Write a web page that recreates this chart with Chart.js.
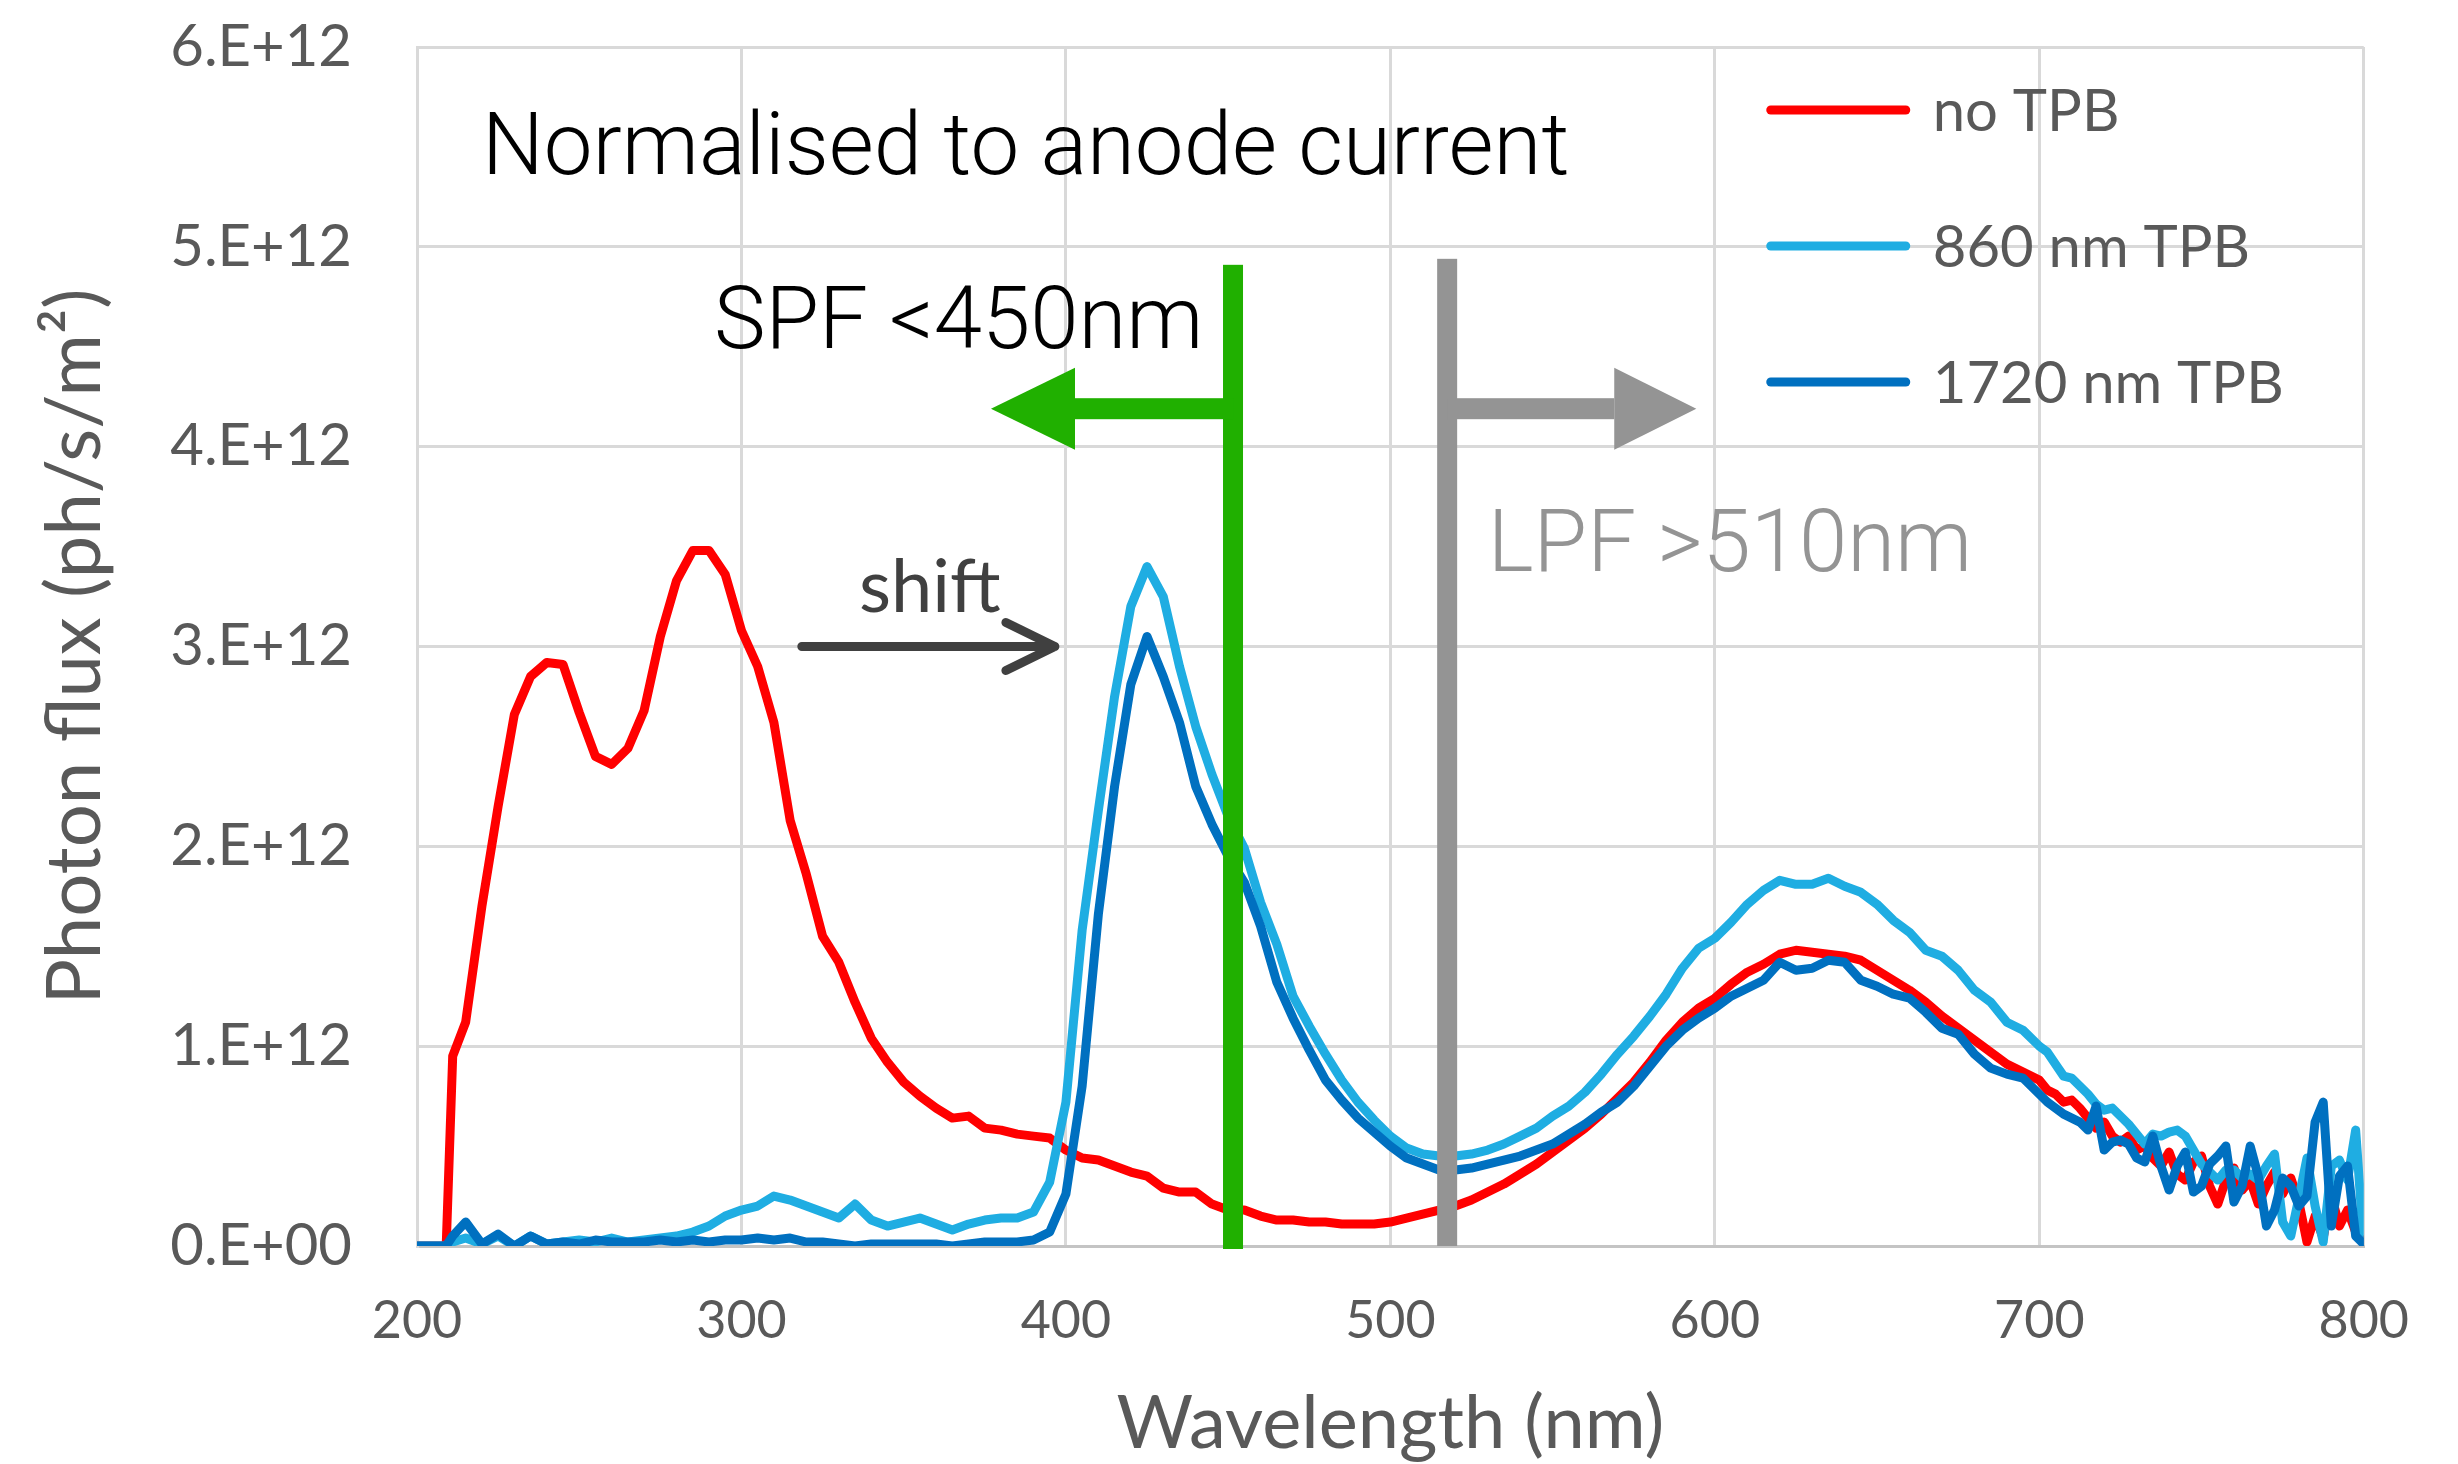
<!DOCTYPE html>
<html>
<head>
<meta charset="utf-8">
<script src="https://cdn.jsdelivr.net/npm/chart.js@4/dist/chart.umd.min.js"></script>
<style>
  html, body { margin: 0; padding: 0; background: #ffffff; }
  #wrap { width: 2458px; height: 1464px; }
</style>
</head>
<body>
<div id="wrap"><canvas id="c" width="2458" height="1464"></canvas></div>
<script>
// Wavelength samples (nm)
const wavelengths = [
  200, 205, 209, 211,
  215, 220, 225, 230, 235, 240, 245, 250, 255, 260, 265, 270, 275, 280, 285, 290,
  295, 300, 305, 310, 315, 320, 325, 330, 335, 340, 345, 350, 355, 360, 365, 370,
  375, 380, 385, 390, 395, 400, 405, 410, 415, 420, 425, 430, 435, 440, 445, 450,
  455, 460, 465, 470, 475, 480, 485, 490, 495, 500, 505, 510, 515, 520, 525, 530,
  535, 540, 545, 550, 555, 560, 565, 570, 575, 580, 585, 590, 595, 600, 605, 610,
  615, 620, 625, 630, 635, 640, 645, 650, 655, 660, 665, 670, 675, 680, 685, 690,
  695, 700,
  702.5, 705, 707.5, 710, 712.5, 715, 717.5, 720, 722.5, 725, 727.5, 730, 732.5, 735,
  737.5, 740, 742.5, 745, 747.5, 750, 752.5, 755, 757.5, 760, 762.5, 765, 767.5, 770,
  772.5, 775, 777.5, 780, 782.5, 785, 787.5, 790, 792.5, 795, 797.5, 800
];

// Photon flux, in units of 1e12 ph/s/m2
const noTPB = [
  0, 0, 0, 0.95,
  1.12, 1.70, 2.20, 2.66, 2.85, 2.92, 2.91, 2.67, 2.45, 2.41, 2.49, 2.68, 3.05, 3.33, 3.48, 3.48,
  3.36, 3.08, 2.90, 2.62, 2.13, 1.86, 1.55, 1.42, 1.22, 1.04, 0.92, 0.82, 0.75, 0.69, 0.64, 0.65,
  0.59, 0.58, 0.56, 0.55, 0.54, 0.48, 0.44, 0.43, 0.40, 0.37, 0.35, 0.29, 0.27, 0.27, 0.21, 0.18,
  0.18, 0.15, 0.13, 0.13, 0.12, 0.12, 0.11, 0.11, 0.11, 0.12, 0.14, 0.16, 0.18, 0.20, 0.23, 0.27,
  0.31, 0.36, 0.41, 0.47, 0.53, 0.59, 0.66, 0.74, 0.82, 0.92, 1.03, 1.12, 1.19, 1.24, 1.31, 1.37,
  1.41, 1.46, 1.48, 1.47, 1.46, 1.45, 1.43, 1.38, 1.33, 1.28, 1.22, 1.15, 1.09, 1.03, 0.97, 0.91,
  0.87, 0.83,
  0.78, 0.76, 0.72, 0.73, 0.69, 0.64, 0.59, 0.62, 0.55, 0.52, 0.55, 0.48, 0.50, 0.44,
  0.40, 0.47, 0.36, 0.33, 0.42, 0.45, 0.30, 0.21, 0.33, 0.39, 0.28, 0.33, 0.21, 0.30,
  0.37, 0.26, 0.34, 0.22, 0.02, 0.15, 0.04, 0.25, 0.10, 0.18, 0.07, 0.01
];

const tpb860 = [
  0, 0, 0, 0.02,
  0.04, 0.01, 0.05, 0.00, 0.05, 0.01, 0.02, 0.03, 0.02, 0.04, 0.02, 0.03, 0.04, 0.05, 0.07, 0.10,
  0.15, 0.18, 0.20, 0.25, 0.23, 0.20, 0.17, 0.14, 0.21, 0.13, 0.10, 0.12, 0.14, 0.11, 0.08, 0.11,
  0.13, 0.14, 0.14, 0.17, 0.32, 0.72, 1.58, 2.18, 2.75, 3.20, 3.40, 3.25, 2.90, 2.60, 2.36, 2.15,
  1.99, 1.72, 1.51, 1.25, 1.10, 0.96, 0.83, 0.72, 0.63, 0.55, 0.49, 0.46, 0.45, 0.45, 0.46, 0.48,
  0.51, 0.55, 0.59, 0.65, 0.70, 0.77, 0.86, 0.96, 1.05, 1.15, 1.26, 1.39, 1.49, 1.54, 1.62, 1.71,
  1.78, 1.83, 1.81, 1.81, 1.84, 1.80, 1.77, 1.71, 1.63, 1.57, 1.48, 1.45, 1.38, 1.28, 1.22, 1.12,
  1.08, 1.00,
  0.97, 0.91, 0.85, 0.84, 0.80, 0.76, 0.71, 0.68, 0.69, 0.65, 0.61, 0.56, 0.51, 0.56,
  0.55, 0.57, 0.58, 0.55, 0.48, 0.41, 0.37, 0.33, 0.38, 0.38, 0.34, 0.36, 0.33, 0.40,
  0.46, 0.12, 0.05, 0.24, 0.44, 0.20, 0.02, 0.40, 0.43, 0.33, 0.58, 0.01
];

const tpb1720 = [
  0, 0, 0, 0.05,
  0.12, 0.01, 0.06, 0.00, 0.05, 0.01, 0.02, 0.01, 0.03, 0.02, 0.02, 0.02, 0.03, 0.02, 0.03, 0.02,
  0.03, 0.03, 0.04, 0.03, 0.04, 0.02, 0.02, 0.01, 0.00, 0.01, 0.01, 0.01, 0.01, 0.01, 0.00, 0.01,
  0.02, 0.02, 0.02, 0.03, 0.07, 0.26, 0.80, 1.66, 2.30, 2.81, 3.05, 2.85, 2.62, 2.30, 2.11, 1.95,
  1.82, 1.60, 1.32, 1.14, 0.98, 0.83, 0.73, 0.64, 0.57, 0.50, 0.44, 0.41, 0.38, 0.38, 0.39, 0.41,
  0.43, 0.45, 0.48, 0.51, 0.56, 0.61, 0.67, 0.72, 0.80, 0.90, 1.00, 1.08, 1.14, 1.19, 1.25, 1.29,
  1.33, 1.42, 1.38, 1.39, 1.43, 1.42, 1.33, 1.30, 1.26, 1.24, 1.17, 1.09, 1.06, 0.96, 0.89, 0.86,
  0.84, 0.76,
  0.72, 0.69, 0.66, 0.64, 0.62, 0.58, 0.70, 0.48, 0.52, 0.53, 0.51, 0.44, 0.42, 0.55,
  0.40, 0.28, 0.40, 0.47, 0.27, 0.30, 0.41, 0.45, 0.50, 0.22, 0.30, 0.50, 0.35, 0.10,
  0.18, 0.34, 0.30, 0.20, 0.25, 0.62, 0.72, 0.10, 0.35, 0.40, 0.05, 0.01
];

const seriesLabels = ['no TPB', '860 nm TPB', '1720 nm TPB'];
const seriesColors = ['#FF0000', '#1FADE2', '#0070C0'];
const yTickLabels = ['0.E+00', '1.E+12', '2.E+12', '3.E+12', '4.E+12', '5.E+12', '6.E+12'];
const xTitle = 'Wavelength (nm)';
const yTitle = 'Photon flux (ph/s/m\u00B2)';

// Filter edges (nm) and the notes placed on the plot (data units)
const spfEdge = 451.5;
const lpfEdge = 517.5;
const notes = {
  normalised: { text: 'Normalised to anode current', x: 220.0, y: 5.365 },
  spf: { text: 'SPF <450nm', x: 291.5, y: 4.495 },
  lpf: { text: 'LPF >510nm', x: 530.0, y: 3.38 },
  shift: { text: 'shift', x: 336.2, y: 3.175 }
};

const AXIS_GREY = '#595959';
const GRID = '#d9d9d9';

function toPoints(values) {
  return wavelengths.map((w, i) => ({ x: w, y: values[i] }));
}

const seriesValues = [noTPB, tpb860, tpb1720];
const datasets = seriesValues.map((vals, i) => ({
  label: seriesLabels[i],
  data: toPoints(vals),
  borderColor: seriesColors[i],
  backgroundColor: seriesColors[i],
  borderWidth: 9,
  pointRadius: 0,
  tension: 0,
  fill: false,
  borderJoinStyle: 'round',
  borderCapStyle: 'round',
  order: 3 - i
}));

function arrowHead(ctx, tipX, baseX, cy, half) {
  ctx.beginPath();
  ctx.moveTo(tipX, cy);
  ctx.lineTo(baseX, cy - half);
  ctx.lineTo(baseX, cy + half);
  ctx.closePath();
  ctx.fill();
}

const overlay = {
  id: 'overlay',
  afterDatasetsDraw(chart) {
    const { ctx, scales: { x: xs, y: ys }, chartArea: ca } = chart;
    ctx.save();

    // short-pass filter edge with arrow pointing to shorter wavelengths
    const gx = xs.getPixelForValue(spfEdge);
    const gTop = ys.getPixelForValue(4.91);
    const base = ys.getPixelForValue(0) + 3;
    const arrowY = ys.getPixelForValue(4.19);
    ctx.fillStyle = '#20B000';
    ctx.fillRect(gx - 10, gTop, 20, base - gTop);
    const gBase = xs.getPixelForValue(402.8);
    ctx.fillRect(gBase, arrowY - 10.5, gx - gBase, 21);
    arrowHead(ctx, xs.getPixelForValue(376.9), gBase, arrowY, 41);

    // long-pass filter edge with arrow pointing to longer wavelengths
    const px = xs.getPixelForValue(lpfEdge);
    const pTop = ys.getPixelForValue(4.94);
    ctx.fillStyle = '#949494';
    ctx.fillRect(px - 10, pTop, 20, ys.getPixelForValue(0) - pTop);
    const pBase = xs.getPixelForValue(569.0);
    ctx.fillRect(px, arrowY - 10.5, pBase - px, 21);
    arrowHead(ctx, xs.getPixelForValue(594.3), pBase, arrowY, 41);

    // shift arrow
    const sy = ys.getPixelForValue(3.0);
    const sx0 = xs.getPixelForValue(318.6);
    const sx1 = xs.getPixelForValue(396.6);
    ctx.strokeStyle = '#404040';
    ctx.lineWidth = 9;
    ctx.lineCap = 'round';
    ctx.lineJoin = 'round';
    ctx.beginPath();
    ctx.moveTo(sx0, sy);
    ctx.lineTo(sx1, sy);
    ctx.moveTo(sx1 - 49, sy - 24);
    ctx.lineTo(sx1, sy);
    ctx.lineTo(sx1 - 49, sy + 24);
    ctx.stroke();

    // notes
    ctx.textBaseline = 'alphabetic';
    ctx.textAlign = 'left';
    ctx.font = '300 87px Roboto, "Liberation Sans", sans-serif';
    ctx.fillStyle = '#000000';
    [notes.normalised, notes.spf].forEach(n => {
      ctx.fillText(n.text, xs.getPixelForValue(n.x), ys.getPixelForValue(n.y));
    });
    ctx.fillStyle = '#949494';
    ctx.fillText(notes.lpf.text, xs.getPixelForValue(notes.lpf.x), ys.getPixelForValue(notes.lpf.y));
    ctx.font = '400 74px Lato, sans-serif';
    ctx.fillStyle = '#404040';
    ctx.fillText(notes.shift.text, xs.getPixelForValue(notes.shift.x), ys.getPixelForValue(notes.shift.y));

    // legend
    ctx.font = '400 58px Lato, sans-serif';
    ctx.textBaseline = 'middle';
    chart.data.datasets.forEach((ds, i) => {
      const ly = ca.top + 63 + i * 136;
      const lx0 = ca.right - 593;
      ctx.strokeStyle = ds.borderColor;
      ctx.lineWidth = 9;
      ctx.lineCap = 'round';
      ctx.beginPath();
      ctx.moveTo(lx0, ly);
      ctx.lineTo(lx0 + 135, ly);
      ctx.stroke();
      ctx.fillStyle = AXIS_GREY;
      ctx.fillText(ds.label, lx0 + 162, ly + 2);
    });

    ctx.restore();
  }
};

new Chart(document.getElementById('c'), {
  type: 'line',
  data: { datasets },
  options: {
    responsive: false,
    animation: false,
    devicePixelRatio: 1,
    layout: { padding: { left: 0, top: 47, right: 94, bottom: 0 } },
    plugins: {
      legend: { display: false },
      tooltip: { enabled: false }
    },
    scales: {
      x: {
        type: 'linear',
        min: 200,
        max: 800,
        afterFit: (s) => { s.height = 218; },
        ticks: {
          stepSize: 100,
          padding: 49,
          color: AXIS_GREY,
          font: { family: 'Lato', size: 52, lineHeight: 1 },
          maxRotation: 0
        },
        grid: { color: GRID, lineWidth: 3, drawTicks: false },
        border: { color: '#c4c4c4', width: 3 },
        title: {
          display: true,
          text: xTitle,
          color: AXIS_GREY,
          font: { family: 'Lato', size: 74, lineHeight: 1 },
          padding: { top: 0, bottom: 3 }
        }
      },
      y: {
        type: 'linear',
        min: 0,
        max: 6,
        afterFit: (s) => { s.width = 417; },
        ticks: {
          stepSize: 1,
          padding: 0,
          color: AXIS_GREY,
          font: { family: 'Lato', size: 58, lineHeight: 1 },
          callback: (v) => yTickLabels[Math.round(v)]
        },
        grid: {
          color: GRID,
          lineWidth: 3,
          drawTicks: true,
          tickLength: 65,
          tickColor: 'rgba(0,0,0,0)'
        },
        border: { color: GRID, width: 3 },
        title: {
          display: true,
          text: yTitle,
          color: AXIS_GREY,
          font: { family: 'Lato', size: 76, lineHeight: 1 },
          padding: { top: 37, bottom: 0 }
        }
      }
    }
  },
  plugins: [overlay]
});
</script>
</body>
</html>
